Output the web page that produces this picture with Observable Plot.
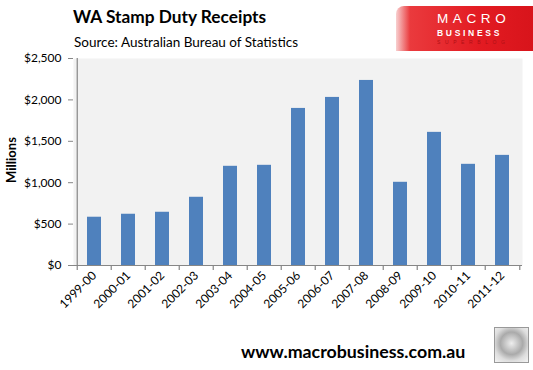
<!DOCTYPE html>
<html><head><meta charset="utf-8">
<script src="https://cdn.jsdelivr.net/npm/d3@7"></script>
<script src="https://cdn.jsdelivr.net/npm/@observablehq/plot@0.6"></script>
<style>
body{margin:0;background:#fff;font-family:Lato,"Open Sans",sans-serif;}
#wrap{position:relative;width:533px;height:370px;overflow:hidden;}
#chart{position:absolute;left:0;top:0;}
.t{position:absolute;white-space:nowrap;color:#000;}
</style></head>
<body><div id="wrap">
<div id="chart"></div>
<div class="t" id="title" style="left:73px;top:6px;font-size:17.3px;font-weight:bold;">WA Stamp Duty Receipts</div>
<div class="t" id="sub" style="left:74px;top:34px;font-size:13.5px;">Source: Australian Bureau of Statistics</div>
<div class="t" style="left:-17px;top:152px;font-size:13px;font-weight:bold;transform:rotate(-90deg);width:56px;text-align:center;">Millions</div>
<div id="logo" style="position:absolute;left:396px;top:6px;width:137px;height:45px;border-top-left-radius:8px;background:linear-gradient(90deg,#f8d0d0 0px,#ea3a3d 14px,#e31b22 60%,#d8141b 100%);">
  <div class="t" style="left:41px;top:5px;color:#fff;font-family:'Liberation Sans',sans-serif;font-size:13.5px;letter-spacing:4.6px;">MACRO</div>
  <div class="t" style="left:41px;top:22px;color:#fff;font-family:'Liberation Sans',sans-serif;font-size:8.5px;letter-spacing:2.7px;font-weight:bold;">BUSINESS</div>
  <div class="t" style="left:41px;top:33px;color:#b01015;font-family:'Liberation Sans',sans-serif;font-size:5px;letter-spacing:4.6px;">SUPERBLOG</div>
</div>
<div class="t" style="left:241px;top:340px;font-size:17.8px;font-weight:bold;">www.macrobusiness.com.au</div>
<div style="position:absolute;left:494px;top:327px;width:33px;height:34px;border:1px solid #999;background:radial-gradient(circle at 50% 45%,#eee 0,#aaa 45%,#ddd 70%,#f4f4f4 100%);"></div>
</div>
<script>
const years = ["1999-00","2000-01","2001-02","2002-03","2003-04","2004-05","2005-06","2006-07","2007-08","2008-09","2009-10","2010-11","2011-12"];
const receipts = [583,619,643,824,1198,1210,1897,2030,2235,1005,1608,1222,1330];
const yTicks = [0,500,1000,1500,2000,2500];
const data = years.map((y,i)=>({year:y, value:receipts[i]}));
const fmt = d => "$" + d3.format(",")(d);
const W = 533, ML = 73, MR = 11;
const step = (W - ML - MR) / years.length;
const axisColor = "#868686";
const chart = Plot.plot({
  width:W, height:370,
  marginTop:58, marginBottom:105, marginLeft:ML, marginRight:MR,
  style:{fontFamily:"Lato, 'Open Sans', sans-serif", fontSize:"12px", color:"#000", background:"transparent"},
  x:{domain:years, paddingInner:0.59, paddingOuter:0.295, label:null},
  y:{domain:[0,2500], label:null},
  marks:[
    Plot.frame({fill:"#f2f2f2", stroke:null}),
    Plot.barY(data,{x:"year", y:"value", fill:"#4f81bd"}),
    Plot.axisY({ticks:yTicks, tickFormat:fmt, tickSize:5, stroke:axisColor, strokeOpacity:1, tickPadding:7, fontSize:12, label:null}),
    // left axis line at the start of the first band
    Plot.ruleX([years[0]],{x:d=>d, dx:-step/2, y1:0, y2:2500, stroke:axisColor, strokeWidth:1.2}),
    Plot.ruleY([0],{stroke:axisColor, strokeWidth:1.2}),
    // category boundary tick marks below baseline
    Plot.ruleX(years,{x:d=>d, dx:-step/2, y1:0, y2:-60, stroke:axisColor, strokeWidth:1.2}),
    Plot.ruleX([years[years.length-1]],{x:d=>d, dx:step/2, y1:0, y2:-60, stroke:axisColor, strokeWidth:1.2}),
    Plot.axisX({tickRotate:-45, tickSize:0, tickPadding:8, fontSize:12, label:null}),
  ]
});
document.getElementById("chart").appendChild(chart);
</script>
</body></html>
